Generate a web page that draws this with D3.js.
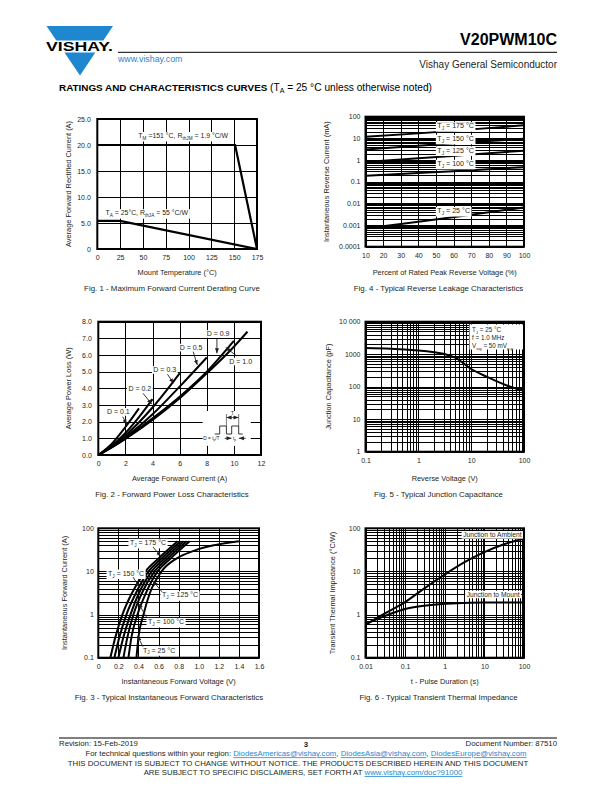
<!DOCTYPE html>
<html><head><meta charset="utf-8">
<script src="https://cdn.jsdelivr.net/npm/d3@7/dist/d3.min.js"></script>
<style>
html,body{margin:0;padding:0;background:#fff;}
text{font-family:"Liberation Sans",Arial,Helvetica,sans-serif;}
</style></head>
<body>
<svg id="page" width="612" height="792" viewBox="0 0 612 792"></svg>
<script>
// ================= DATA =================
// Fig. 1 - Maximum Forward Current Derating Curve
const fig1XTicks = [0,25,50,75,100,125,150,175];
const fig1XLabels = ["0","25","50","75","100","125","150","175"];
const fig1YTicks = [0,5,10,15,20,25];
const fig1YLabels = ["0","5.0","10.0","15.0","20.0","25.0"];
const fig1MountTemp = [0,151,175];
const fig1MountCurrent = [20,20,0];
const fig1AmbTemp = [0,25,175];
const fig1AmbCurrent = [5.4,5.4,0];

// Fig. 2 - Forward Power Loss Characteristics
const fig2XTicks = [0,2,4,6,8,10,12];
const fig2XLabels = ["0","2","4","6","8","10","12"];
const fig2YTicks = [0,1,2,3,4,5,6,7,8];
const fig2YLabels = ["0.0","1.0","2.0","3.0","4.0","5.0","6.0","7.0","8.0"];
const fig2I_D01 = [0,1,2,3];            const fig2P_D01 = [0,0.68,1.68,2.8];
const fig2I_D02 = [0,1,2,3,4];          const fig2P_D02 = [0,0.56,1.32,2.27,3.35];
const fig2I_D03 = [0,1,2,4,6];          const fig2P_D03 = [0,0.52,1.17,2.85,4.9];
const fig2I_D05 = [0,1,2,4,6,8];        const fig2P_D05 = [0,0.49,1.06,2.44,4.1,5.85];
const fig2I_D09 = [0,1,2,4,6,8,10];     const fig2P_D09 = [0,0.47,1.0,2.2,3.5,5.0,6.85];
const fig2I_D10 = [0,1,2,4,6,8,10,11];  const fig2P_D10 = [0,0.46,0.97,2.1,3.4,4.9,6.5,7.4];

// Fig. 3 - Typical Instantaneous Forward Characteristics
const fig3XTicks = [0,0.2,0.4,0.6,0.8,1.0,1.2,1.4,1.6];
const fig3XLabels = ["0","0.2","0.4","0.6","0.8","1.0","1.2","1.4","1.6"];
const fig3YTicks = [0.1,1,10,100];
const fig3YLabels = ["0.1","1","10","100"];
const fig3Current = [0.1,0.3,1,3,10,20,50];
const fig3V_175 = [0.12,0.17,0.24,0.33,0.47,0.60,0.79];
const fig3V_150 = [0.16,0.21,0.28,0.37,0.50,0.63,0.82];
const fig3V_125 = [0.20,0.25,0.32,0.40,0.53,0.66,0.85];
const fig3V_100 = [0.25,0.29,0.35,0.43,0.56,0.69,0.88];
const fig3V_75  = [0.30,0.33,0.39,0.47,0.59,0.72,0.91];
const fig3Current25 = [0.1,0.3,1,3,10,20,30,50];
const fig3V_25  = [0.38,0.40,0.45,0.51,0.63,0.78,0.95,1.40];

// Fig. 4 - Typical Reverse Leakage Characteristics
const fig4XTicks = [10,20,30,40,50,60,70,80,90,100];
const fig4XLabels = ["10","20","30","40","50","60","70","80","90","100"];
const fig4YTicks = [0.0001,0.001,0.01,0.1,1,10,100];
const fig4YLabels = ["0.0001","0.001","0.01","0.1","1","10","100"];
const fig4Percent = [10,40,70,100];
const fig4I_175 = [12,17,26,40];
const fig4I_150 = [3.1,4.6,6.8,9.5];
const fig4I_125 = [0.82,1.2,1.8,2.7];
const fig4I_100 = [0.19,0.25,0.34,0.47];
const fig4I_25  = [0.0007,0.0014,0.003,0.0065];

// Fig. 5 - Typical Junction Capacitance
const fig5XTicks = [0.1,1,10,100];
const fig5XLabels = ["0.1","1","10","100"];
const fig5YTicks = [1,10,100,1000,10000];
const fig5YLabels = ["1","10","100","1000","10 000"];
const fig5Voltage = [0.1,0.3,1,2,3,5,7,10,20,50,100];
const fig5Cap = [1550,1480,1300,1150,1030,780,540,350,200,105,75];

// Fig. 6 - Typical Transient Thermal Impedance
const fig6XTicks = [0.01,0.1,1,10,100];
const fig6XLabels = ["0.01","0.1","1","10","100"];
const fig6YTicks = [0.1,1,10,100];
const fig6YLabels = ["0.1","1","10","100"];
const fig6TimeA = [0.01,0.03,0.1,0.3,1,3,10,30,100];
const fig6ZthA  = [0.58,1.05,1.95,4.0,8.5,16,28,42,58];
const fig6TimeM = [0.01,0.03,0.1,0.3,1,3,10,100];
const fig6ZthM  = [0.6,0.92,1.35,1.6,1.78,1.86,1.9,1.9];

// ================= DRAWING =================
const INK = "#231f20";
const BLUE = "#1f87cf";
const FONT = "'Liberation Sans', Arial, sans-serif";
const svg = d3.select("#page");
svg.append("rect").attr("width",612).attr("height",792).attr("fill","#fff");

const defs = svg.append("defs");
defs.append("marker").attr("id","ah").attr("viewBox","0 0 10 10")
  .attr("refX",10).attr("refY",5).attr("markerWidth",5).attr("markerHeight",5)
  .attr("markerUnits","userSpaceOnUse").attr("orient","auto-start-reverse")
  .append("path").attr("d","M0,1 L10,5 L0,9 Z").attr("fill",INK);

function rich(g, x, y, parts, size, anchor, bg){
  const t = g.append("text").attr("x",x).attr("y",y).attr("font-size",size)
    .attr("text-anchor",anchor||"start").attr("fill",INK);
  let shifted = false;
  parts.forEach(p=>{
    const isSub = Array.isArray(p);
    const s = t.append("tspan").text(isSub ? p[0] : p);
    if (isSub){ s.attr("font-size",size*0.68).attr("dy", shifted?0:size*0.28); shifted=true; }
    else { if (shifted){ s.attr("dy",-size*0.28); shifted=false; } }
  });
  if (bg){
    const b = t.node().getBBox();
    g.insert("rect", () => t.node()).attr("x",b.x-1.5).attr("y",b.y-0.3)
      .attr("width",b.width+3).attr("height",b.height+0.6).attr("fill","#fff");
  }
  return t;
}
function arrow(g,x1,y1,x2,y2){
  g.append("line").attr("x1",x1).attr("y1",y1).attr("x2",x2).attr("y2",y2)
    .attr("stroke",INK).attr("stroke-width",0.9).attr("marker-end","url(#ah)");
}

function panel(o){
  const g = svg.append("g");
  const [xl,xr] = o.x.range(), [yb,yt] = o.y.range();
  const W = xr-xl, H = yb-yt;
  const gridStyle = sel => { sel.select(".domain").remove();
    sel.selectAll("line").attr("stroke","#000").attr("stroke-width",1).attr("shape-rendering","crispEdges"); };
  g.append("g").attr("transform",`translate(0,${yb})`)
    .call(d3.axisBottom(o.x).tickValues(o.xGrid).tickSize(-H).tickFormat("")).call(gridStyle);
  g.append("g").attr("transform",`translate(${xl},0)`)
    .call(d3.axisLeft(o.y).tickValues(o.yGrid).tickSize(-W).tickFormat("")).call(gridStyle);
  const xa = g.append("g").attr("transform",`translate(0,${yb})`)
    .call(d3.axisBottom(o.x).tickValues(o.xTicks).tickFormat((d,i)=>o.xLabels[i]).tickSize(0).tickPadding(6));
  xa.select(".domain").remove();
  xa.attr("font-family",FONT).attr("font-size",7).attr("color",INK);
  const ya = g.append("g").attr("transform",`translate(${xl},0)`)
    .call(d3.axisLeft(o.y).tickValues(o.yTicks).tickFormat((d,i)=>o.yLabels[i]).tickSize(0).tickPadding(o.yPad));
  ya.select(".domain").remove();
  ya.attr("font-family",FONT).attr("font-size",7).attr("color",INK);
  g.append("text").attr("x",(xl+xr)/2).attr("y",o.rowBottom+26).attr("text-anchor","middle")
    .attr("font-size",7.4).attr("fill",INK).text(o.xTitle);
  g.append("text").attr("transform",`translate(${o.yTitleX},${(yt+yb)/2}) rotate(-90)`)
    .attr("text-anchor","middle").attr("font-size",7.4).attr("fill",INK).text(o.yTitle);
  g.append("text").attr("x",o.capX).attr("y",o.rowBottom+42).attr("text-anchor","middle")
    .attr("font-size",7.9).attr("fill",INK).text(o.caption);
  const plot = g.append("g");
  g.append("rect").attr("x",xl).attr("y",yt).attr("width",W).attr("height",H)
    .attr("fill","none").attr("stroke","#000").attr("stroke-width",2);
  return {g, plot, x:o.x, y:o.y};
}
function curve(p, xs, ys, w, c){
  const pts = xs.map((d,i)=>[p.x(d), p.y(ys[i])]);
  p.plot.append("path").attr("d", d3.line().curve(c || d3.curveMonotoneX)(pts))
    .attr("fill","none").attr("stroke","#000").attr("stroke-width",w||2).attr("stroke-linejoin","round");
}
function poly(p, xs, ys, w){
  const pts = xs.map((d,i)=>[p.x(d), p.y(ys[i])]);
  p.plot.append("path").attr("d", d3.line()(pts))
    .attr("fill","none").attr("stroke","#000").attr("stroke-width",w||2.2);
}

// ---------- Fig 1 ----------
{
  const x = d3.scaleLinear().domain([0,175]).range([97.3,257]);
  const y = d3.scaleLinear().domain([0,25]).range([249,119]);
  const p = panel({x,y,xGrid:fig1XTicks,yGrid:fig1YTicks,xTicks:fig1XTicks,xLabels:fig1XLabels,
    yTicks:fig1YTicks,yLabels:fig1YLabels,yPad:6.5,rowBottom:249,yTitleX:70.5,capX:172,
    xTitle:"Mount Temperature (°C)",yTitle:"Average Forward Rectified Current (A)",
    caption:"Fig. 1 - Maximum Forward Current Derating Curve"});
  rich(p.plot, x(45), y(21.3), ["T",["M"]," =151 °C, R",["thJM"]," = 1.9 °C/W"], 6.9, "start", true);
  rich(p.plot, x(9), y(6.45), ["T",["A"]," = 25°C, R",["thJA"]," = 55 °C/W"], 6.9, "start", true);
  poly(p, fig1MountTemp, fig1MountCurrent, 2.2);
  poly(p, fig1AmbTemp, fig1AmbCurrent, 2.2);
}

// ---------- Fig 4 ----------
{
  const x = d3.scaleLinear().domain([10,100]).range([365.5,524]);
  const y = d3.scaleLog().domain([0.0001,100]).range([246.7,116.7]);
  const p = panel({x,y,xGrid:fig4XTicks,yGrid:y.ticks(),xTicks:fig4XTicks,xLabels:fig4XLabels,
    yTicks:fig4YTicks,yLabels:fig4YLabels,yPad:5,rowBottom:249,yTitleX:328.5,capX:438.5,
    xTitle:"Percent of Rated Peak Reverse Voltage (%)",yTitle:"Instantaneous Reverse Current (mA)",
    caption:"Fig. 4 - Typical Reverse Leakage Characteristics"});
  [fig4I_175,fig4I_150,fig4I_125,fig4I_100,fig4I_25].forEach(s=>curve(p, fig4Percent, s, 2));
  const lx = x(50.8);
  rich(p.plot, lx, y(37)+2.4, ["T",["J"]," = 175 °C"], 7.1, "start", true);
  rich(p.plot, lx, y(9.7)+2.4, ["T",["J"]," = 150 °C"], 7.1, "start", true);
  rich(p.plot, lx, y(2.8)+2.4, ["T",["J"]," = 125 °C"], 7.1, "start", true);
  rich(p.plot, lx, y(0.68)+2.4, ["T",["J"]," = 100 °C"], 7.1, "start", true);
  rich(p.plot, lx, y(0.0045)+2.4, ["T",["J"]," = 25 °C"], 7.1, "start", true);
}

// ---------- Fig 2 ----------
{
  const x = d3.scaleLinear().domain([0,12]).range([98.3,261]);
  const y = d3.scaleLinear().domain([0,8]).range([455,321.7]);
  const p = panel({x,y,xGrid:fig2XTicks,yGrid:fig2YTicks,xTicks:fig2XTicks,xLabels:fig2XLabels,
    yTicks:fig2YTicks,yLabels:fig2YLabels,yPad:6.5,rowBottom:455,yTitleX:70.5,capX:172,
    xTitle:"Average Forward Current (A)",yTitle:"Average Power Loss (W)",
    caption:"Fig. 2 - Forward Power Loss Characteristics"});
  const ix = x(7.7), iy = y(2.64);
  p.plot.append("rect").attr("x",ix).attr("y",iy).attr("width",x(11.25)-ix).attr("height",y(0.55)-iy).attr("fill","#fff");
  const ins = p.plot.append("g").attr("transform",`translate(${ix},${iy})`);
  ins.append("path").attr("d","M12,23 H17 V15 H23.7 V23 H29 V15 H36 V23 H40")
    .attr("fill","none").attr("stroke",INK).attr("stroke-width",0.9);
  ins.append("path").attr("d","M23.7,15 V3 M36,15 V3").attr("stroke",INK).attr("stroke-width",0.6);
  arrow(ins,25.5,6.5,23.9,6.5); arrow(ins,34.2,6.5,35.8,6.5);
  ins.append("line").attr("x1",25).attr("x2",34.7).attr("y1",6.5).attr("y2",6.5).attr("stroke",INK).attr("stroke-width",0.7);
  ins.append("text").attr("x",29.8).attr("y",4).attr("font-size",4.8).attr("text-anchor","middle").attr("fill",INK).text("T");
  rich(ins, 0.5, 28.8, ["D = t",["p"],"/T"], 4.8, "start", false);
  arrow(ins,22,27.3,28.8,27.3); arrow(ins,43,27.3,36.2,27.3);
  rich(ins, 30.3, 28.8, ["t",["p"]], 4.8, "start", false);

  [[fig2I_D01,fig2P_D01],[fig2I_D02,fig2P_D02],[fig2I_D03,fig2P_D03],
   [fig2I_D05,fig2P_D05],[fig2I_D09,fig2P_D09],[fig2I_D10,fig2P_D10]].forEach(s=>curve(p,s[0],s[1],2));
  const L = (t,dx,dy)=>rich(p.plot, x(dx), y(dy)+2.4, [t], 7, "middle", true);
  L("D = 0.9",8.83,7.26); L("D = 1.0",10.5,5.6); L("D = 0.5",6.84,6.44);
  L("D = 0.3",4.9,5.1); L("D = 0.2",3.06,3.96); L("D = 0.1",1.48,2.58);
  arrow(p.plot, x(8.75), y(7.0), x(8.75), y(6.1));
  arrow(p.plot, x(10.2), y(5.95), x(9.4), y(6.45));
  arrow(p.plot, x(7.0), y(6.2), x(7.3), y(5.4));
  arrow(p.plot, x(5.1), y(4.85), x(5.55), y(4.3));
  arrow(p.plot, x(3.3), y(3.7), x(3.95), y(3.05));
  arrow(p.plot, x(1.8), y(2.3), x(2.1), y(1.85));
}

// ---------- Fig 5 ----------
{
  const x = d3.scaleLog().domain([0.1,100]).range([365.5,524]);
  const y = d3.scaleLog().domain([1,10000]).range([451.7,321.7]);
  const p = panel({x,y,xGrid:x.ticks(),yGrid:y.ticks(),xTicks:fig5XTicks,xLabels:fig5XLabels,
    yTicks:fig5YTicks,yLabels:fig5YLabels,yPad:5,rowBottom:455,yTitleX:331,capX:438.5,
    xTitle:"Reverse Voltage (V)",yTitle:"Junction Capacitance (pF)",
    caption:"Fig. 5 - Typical Junction Capacitance"});
  curve(p, fig5Voltage, fig5Cap, 2, d3.curveCatmullRom.alpha(0.5));
  const bx = 469.5, by = 324.5;
  p.plot.append("rect").attr("x",bx).attr("y",by).attr("width",523-bx).attr("height",25).attr("fill","#fff");
  rich(p.plot, bx+2.5, by+7.3, ["T",["J"]," = 25 °C"], 6.3, "start", false);
  rich(p.plot, bx+2.5, by+15.5, ["f = 1.0 MHz"], 6.3, "start", false);
  rich(p.plot, bx+2.5, by+23.4, ["V",["sig"]," = 50 mV",["p-p"]], 6.3, "start", false);
}

// ---------- Fig 3 ----------
{
  const x = d3.scaleLinear().domain([0,1.6]).range([98.3,259]);
  const y = d3.scaleLog().domain([0.1,100]).range([657.7,528.3]);
  const p = panel({x,y,xGrid:fig3XTicks,yGrid:y.ticks(),xTicks:fig3XTicks,xLabels:fig3XLabels,
    yTicks:fig3YTicks,yLabels:fig3YLabels,yPad:4.5,rowBottom:657.7,yTitleX:66.5,capX:169,
    xTitle:"Instantaneous Forward Voltage (V)",yTitle:"Instantaneous Forward Current (A)",
    caption:"Fig. 3 - Typical Instantaneous Forward Characteristics"});
  [fig3V_175,fig3V_150,fig3V_125,fig3V_100,fig3V_75].forEach(v=>curve(p, v, fig3Current, 2));
  curve(p, fig3V_25, fig3Current25, 2);
  rich(p.plot, x(0.315), y(46.3)+2.4, ["T",["J"]," = 175 °C"], 7, "start", true);
  rich(p.plot, x(0.097), y(9.0)+2.4, ["T",["J"]," = 150 °C"], 7, "start", true);
  rich(p.plot, x(0.634), y(2.83)+2.4, ["T",["J"]," = 125 °C"], 7, "start", true);
  rich(p.plot, x(0.495), y(0.68)+2.4, ["T",["J"]," = 100 °C"], 7, "start", true);
  rich(p.plot, x(0.445), y(0.15)+2.4, ["T",["J"]," = 25 °C"], 7, "start", true);
  arrow(p.plot, x(0.545), y(36.8), x(0.625), y(22));
  arrow(p.plot, x(0.346), y(7.4), x(0.41), y(4.3));
  arrow(p.plot, x(0.634), y(3.35), x(0.545), y(6.0));
  arrow(p.plot, x(0.485), y(0.84), x(0.40), y(1.8));
  arrow(p.plot, x(0.445), y(0.18), x(0.39), y(0.32));
}

// ---------- Fig 6 ----------
{
  const x = d3.scaleLog().domain([0.01,100]).range([365.5,524]);
  const y = d3.scaleLog().domain([0.1,100]).range([657.7,528.3]);
  const p = panel({x,y,xGrid:x.ticks(),yGrid:y.ticks(),xTicks:fig6XTicks,xLabels:fig6XLabels,
    yTicks:fig6YTicks,yLabels:fig6YLabels,yPad:5,rowBottom:657.7,yTitleX:334.5,capX:438.5,
    xTitle:"t - Pulse Duration (s)",yTitle:"Transient Thermal Impedance (°C/W)",
    caption:"Fig. 6 - Typical Transient Thermal Impedance"});
  curve(p, fig6TimeA, fig6ZthA, 2);
  curve(p, fig6TimeM, fig6ZthM, 2);
  rich(p.plot, 521.5, y(70)+2.4, ["Junction to Ambient"], 6.7, "end", true);
  rich(p.plot, 519.5, y(2.91)+2.4, ["Junction to Mount"], 6.7, "end", true);
}

// ---------- Header ----------
{
  const h = svg.append("g");
  const ax = 80, ay = 75.5, lx = 46.5, rx = 113, ty = 26;
  const xAt = (yy, side) => side<0 ? lx + (ax-lx)*(yy-ty)/(ay-ty) : rx - (rx-ax)*(yy-ty)/(ay-ty);
  h.append("polygon").attr("points",[[lx,ty],[rx,ty],[xAt(40.5,1),40.5],[xAt(40.5,-1),40.5]].join(" ")).attr("fill",BLUE);
  h.append("polygon").attr("points",[[xAt(52.5,-1),52.5],[xAt(52.5,1),52.5],[ax,ay]].join(" ")).attr("fill",BLUE);
  h.append("text").attr("x",46).attr("y",50.8).attr("font-size",12.5).attr("font-weight","bold")
    .attr("textLength",67).attr("lengthAdjust","spacingAndGlyphs").attr("fill","#000").text("VISHAY.");
  h.append("line").attr("x1",118).attr("x2",557).attr("y1",52.3).attr("y2",52.3).attr("stroke","#000").attr("stroke-width",1);
  h.append("text").attr("x",118).attr("y",61.5).attr("font-size",8.8).attr("fill",BLUE).text("www.vishay.com");
  h.append("text").attr("x",557).attr("y",45).attr("font-size",16).attr("font-weight","bold").attr("text-anchor","end").attr("fill","#000").text("V20PWM10C");
  h.append("text").attr("x",557).attr("y",68).attr("font-size",10).attr("text-anchor","end").attr("fill",INK).text("Vishay General Semiconductor");
  const t = h.append("text").attr("x",59).attr("y",91).attr("fill","#000");
  t.append("tspan").attr("font-size",9.9).attr("font-weight","bold").text("RATINGS AND CHARACTERISTICS CURVES ");
  t.append("tspan").attr("font-size",10.2).text("(T");
  t.append("tspan").attr("font-size",7).attr("dy",2.2).text("A");
  t.append("tspan").attr("font-size",10.2).attr("dy",-2.2).text(" = 25 °C unless otherwise noted)");
}

// ---------- Footer ----------
{
  const f = svg.append("g").attr("font-size",7.8).attr("fill",INK);
  f.append("line").attr("x1",59).attr("x2",557).attr("y1",738).attr("y2",738).attr("stroke","#000").attr("stroke-width",1);
  f.append("text").attr("x",59).attr("y",746).text("Revision: 15-Feb-2019");
  f.append("text").attr("x",306).attr("y",746.5).attr("text-anchor","middle").attr("font-weight","bold").text("3");
  f.append("text").attr("x",557).attr("y",746).attr("text-anchor","end").text("Document Number: 87510");
  const q = f.append("text").attr("x",306).attr("y",756.3).attr("text-anchor","middle");
  q.append("tspan").text("For technical questions within your region: ");
  q.append("tspan").attr("fill",BLUE).attr("text-decoration","underline").text("DiodesAmericas@vishay.com");
  q.append("tspan").text(", ");
  q.append("tspan").attr("fill",BLUE).attr("text-decoration","underline").text("DiodesAsia@vishay.com");
  q.append("tspan").text(", ");
  q.append("tspan").attr("fill",BLUE).attr("text-decoration","underline").text("DiodesEurope@vishay.com");
  f.append("text").attr("x",298).attr("y",766.3).attr("text-anchor","middle").text("THIS DOCUMENT IS SUBJECT TO CHANGE WITHOUT NOTICE. THE PRODUCTS DESCRIBED HEREIN AND THIS DOCUMENT");
  const r = f.append("text").attr("x",303).attr("y",775).attr("text-anchor","middle");
  r.append("tspan").text("ARE SUBJECT TO SPECIFIC DISCLAIMERS, SET FORTH AT ");
  r.append("tspan").attr("fill",BLUE).attr("text-decoration","underline").text("www.vishay.com/doc?91000");
}
</script>
</body></html>
